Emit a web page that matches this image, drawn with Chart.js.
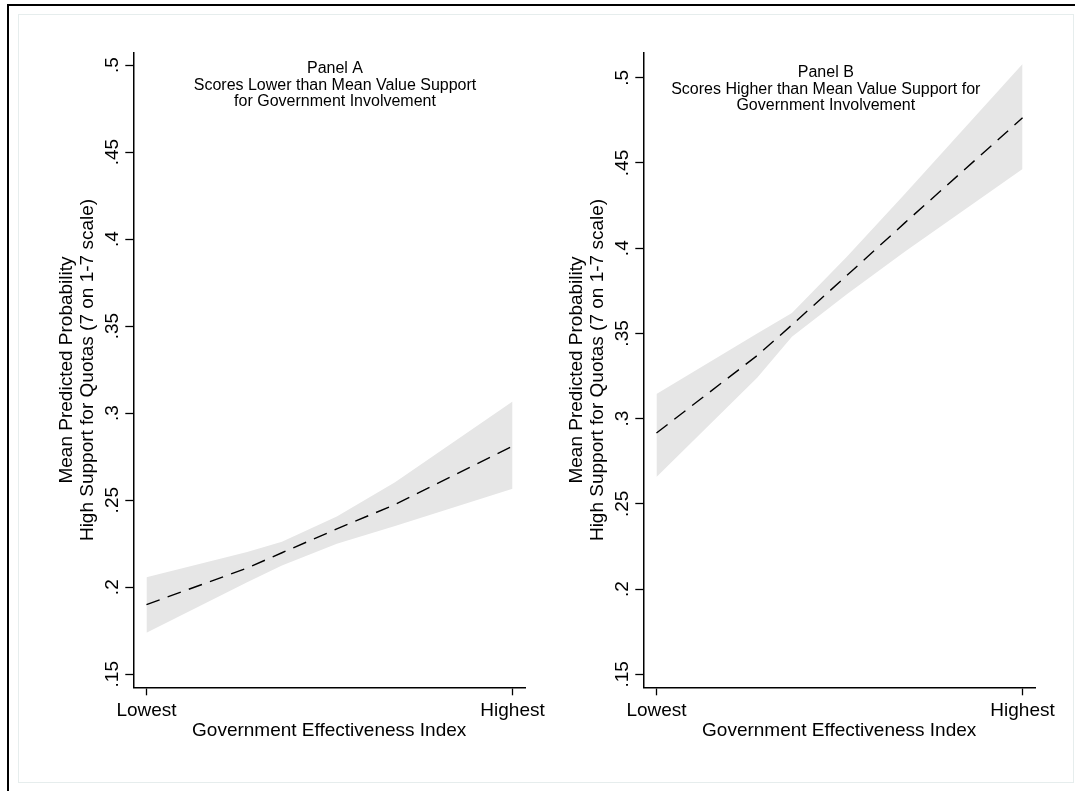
<!DOCTYPE html>
<html lang="en">
<head>
<meta charset="UTF-8">
<title>Predicted Support for Quotas by Government Effectiveness</title>
<script src="https://cdn.jsdelivr.net/npm/chart.js"></script>
<style>
    html, body {
        margin: 0;
        width: 1075px;
        height: 791px;
        overflow: hidden;
        background: #fff;
    }
    .outer {
        position: absolute;
        left: 7px;
        top: 4px;
        width: 1100px;
        height: 820px;
        border-top: 2px solid #000;
        border-left: 2px solid #000;
    }
    .inner {
        position: absolute;
        left: 18px;
        top: 14px;
        width: 1054px;
        height: 767px;
        border: 1px solid #e6eded;
    }
    canvas {
        position: absolute;
        top: 16px;
    }
    #panelA { left: 20px; }
    #panelB { left: 530px; }
</style>
</head>
<body>
<div class="outer"></div>
<div class="inner"></div>
<canvas id="panelA" width="540" height="764"></canvas>
<canvas id="panelB" width="540" height="764"></canvas>

<script>
    // Government effectiveness levels (0 = lowest, 1 = highest)
    const xLevels = [0, 0.275, 0.37, 0.52, 0.679, 1];
    const xLabels = ['Lowest', 'Highest'];
    const yTicks = [0.15, 0.2, 0.25, 0.3, 0.35, 0.4, 0.45, 0.5];

    // Panel A: below-mean support for government involvement
    const meanA  = [0.190, 0.211, 0.2198, 0.2335, 0.2475, 0.281];
    const upperA = [0.2057, 0.2203, 0.2261, 0.2406, 0.2603, 0.3067];
    const lowerA = [0.1739, 0.2029, 0.2125, 0.2250, 0.2352, 0.2566];

    // Panel B: above-mean support for government involvement
    const meanB  = [0.2916, 0.337, 0.355, 0.384, 0.415, 0.4765];
    const upperB = [0.3145, 0.350, 0.362, 0.395, 0.432, 0.508];
    const lowerB = [0.2658, 0.324, 0.348, 0.373, 0.398, 0.4465];

    const titleA = ['Panel A', 'Scores Lower than Mean Value Support', 'for Government Involvement'];
    const titleB = ['Panel B', 'Scores Higher than Mean Value Support for', 'Government Involvement'];
    const xTitle = 'Government Effectiveness Index';
    const yTitle = ['Mean Predicted Probability', 'High Support for Quotas (7 on 1-7 scale)'];

    const FAMILY = 'Arial, "Liberation Sans", sans-serif';
    const INK = '#000';

    function pts(ys) {
        return xLevels.map((x, i) => ({ x: x, y: ys[i] }));
    }

    // Stata-style labels: .5, .45, ...
    function fmt(v) {
        return String(+v.toFixed(2)).replace(/^0/, '');
    }

    function makePanel(id, mean, upper, lower, yMin, yMax, title, titleDx, titleDy) {
        const axisGrid = {
            display: true,
            drawOnChartArea: false,
            drawTicks: true,
            tickLength: 8,
            tickColor: INK,
            tickWidth: 1.3
        };
        const axisBorder = { display: true, color: INK, width: 1.5 };

        // rotated y tick labels, reading bottom to top
        const yLabels = {
            id: 'yLabels',
            afterDraw(chart) {
                const s = chart.scales.y;
                const ctx = chart.ctx;
                ctx.save();
                ctx.fillStyle = INK;
                ctx.font = '19px ' + FAMILY;
                ctx.textAlign = 'center';
                ctx.textBaseline = 'alphabetic';
                s.ticks.forEach(t => {
                    ctx.save();
                    ctx.translate(s.right - 15, s.getPixelForValue(t.value));
                    ctx.rotate(-Math.PI / 2);
                    ctx.fillText(fmt(t.value), 0, 0);
                    ctx.restore();
                });
                ctx.restore();
            }
        };

        // panel heading inside the plot region
        const panelTitle = {
            id: 'panelTitle',
            afterDraw(chart) {
                const a = chart.chartArea;
                const ctx = chart.ctx;
                ctx.save();
                ctx.fillStyle = INK;
                ctx.font = '16px ' + FAMILY;
                ctx.textAlign = 'center';
                ctx.textBaseline = 'alphabetic';
                title.forEach((line, i) => {
                    ctx.fillText(line, a.left + titleDx, a.top + titleDy + i * 16.3);
                });
                ctx.restore();
            }
        };

        return new Chart(document.getElementById(id), {
            type: 'line',
            data: {
                datasets: [
                    {
                        data: pts(mean),
                        borderColor: INK,
                        borderWidth: 1.4,
                        borderDash: [14, 8.5],
                        pointRadius: 0,
                        fill: false
                    },
                    {
                        data: pts(upper),
                        borderColor: 'rgba(0,0,0,0)',
                        borderWidth: 0,
                        backgroundColor: '#e6e6e6',
                        pointRadius: 0,
                        fill: '+1'
                    },
                    {
                        data: pts(lower),
                        borderColor: 'rgba(0,0,0,0)',
                        borderWidth: 0,
                        pointRadius: 0,
                        fill: false
                    }
                ]
            },
            options: {
                responsive: false,
                animation: false,
                devicePixelRatio: 1,
                layout: { padding: { left: 0, top: 36.7, right: 35, bottom: 0 } },
                plugins: {
                    legend: { display: false },
                    tooltip: { enabled: false }
                },
                scales: {
                    x: {
                        type: 'linear',
                        min: -0.036,
                        max: 1.034,
                        afterBuildTicks: s => { s.ticks = [{ value: 0 }, { value: 1 }]; },
                        afterFit: s => { s.height = 92.7; },
                        ticks: {
                            callback: (v, i) => xLabels[i],
                            autoSkip: false,
                            maxRotation: 0,
                            padding: 4,
                            color: INK,
                            font: { family: FAMILY, size: 19 }
                        },
                        grid: axisGrid,
                        border: axisBorder,
                        title: {
                            display: true,
                            text: xTitle,
                            color: INK,
                            font: { family: FAMILY, size: 19 },
                            padding: { top: 0, bottom: 38 }
                        }
                    },
                    y: {
                        type: 'linear',
                        min: yMin,
                        max: yMax,
                        afterBuildTicks: s => { s.ticks = yTicks.map(v => ({ value: v })); },
                        afterFit: s => { s.width = 113.3; },
                        ticks: { display: false },
                        grid: axisGrid,
                        border: axisBorder,
                        title: {
                            display: true,
                            text: yTitle,
                            color: INK,
                            font: { family: FAMILY, size: 19, lineHeight: 1.1 },
                            padding: { top: 36.3, bottom: 0 }
                        }
                    }
                }
            },
            plugins: [yLabels, panelTitle]
        });
    }

    makePanel('panelA', meanA, upperA, lowerA, 0.1425, 0.5071, titleA, 201.7, 20.6);
    makePanel('panelB', meanB, upperB, lowerB, 0.1424, 0.5147, titleB, 182.5, 24.6);
</script>
</body>
</html>
